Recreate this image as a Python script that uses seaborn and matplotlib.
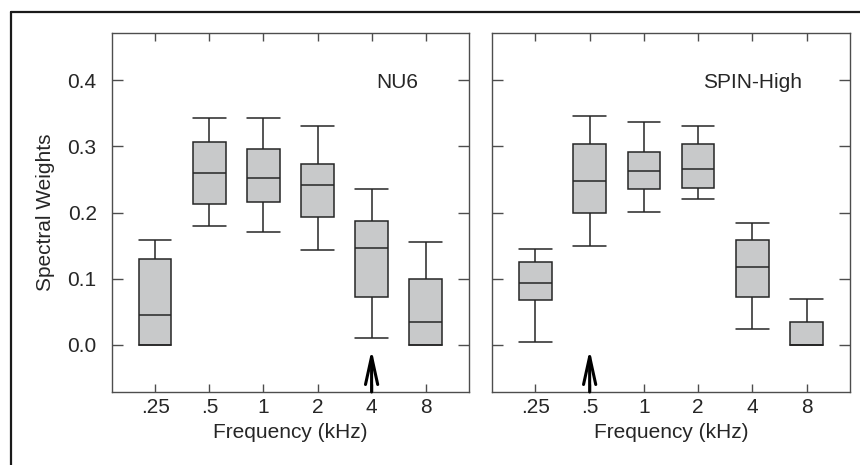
import numpy as np
import pandas as pd
import matplotlib
matplotlib.use('Agg')
import matplotlib.pyplot as plt
from matplotlib.lines import Line2D
import seaborn as sns

# Frequenzbänder (kHz) und Kennwerte der Boxen: min, Q1, Median, Q3, max
freqs = ['.25', '.5', '1', '2', '4', '8']

nu6_min = [0.000, 0.179, 0.170, 0.143, 0.010, 0.000]
nu6_q1 = [0.000, 0.213, 0.216, 0.193, 0.073, 0.000]
nu6_med = [0.045, 0.259, 0.252, 0.241, 0.146, 0.034]
nu6_q3 = [0.130, 0.307, 0.296, 0.273, 0.187, 0.099]
nu6_max = [0.158, 0.343, 0.343, 0.331, 0.236, 0.155]

spin_min = [0.005, 0.150, 0.201, 0.221, 0.024, 0.000]
spin_q1 = [0.068, 0.200, 0.235, 0.237, 0.072, 0.000]
spin_med = [0.093, 0.247, 0.263, 0.266, 0.118, 0.000]
spin_q3 = [0.125, 0.303, 0.292, 0.304, 0.158, 0.034]
spin_max = [0.145, 0.345, 0.337, 0.330, 0.184, 0.070]

panel_titles = ['NU6', 'SPIN-High']
arrow_freqs = ['4', '.5']
yticks = [0.0, 0.1, 0.2, 0.3, 0.4]


def to_long(mins, q1s, meds, q3s, maxs):
    rows = []
    for f, a, b, c, d, e in zip(freqs, mins, q1s, meds, q3s, maxs):
        for v in (a, b, c, d, e):
            rows.append({'freq': f, 'weight': v})
    return pd.DataFrame(rows)


panels = [
    to_long(nu6_min, nu6_q1, nu6_med, nu6_q3, nu6_max),
    to_long(spin_min, spin_q1, spin_med, spin_q3, spin_max),
]

sns.set_style('ticks')
plt.rcParams['font.family'] = ['Liberation Sans', 'DejaVu Sans']
plt.rcParams['font.size'] = 15

spine_col = '#4d4d4d'
line_col = '#262626'
box_col = '#c8c9ca'

fig = plt.figure(figsize=(8.6, 4.65), dpi=100)
ax1 = fig.add_axes([0.1302, 0.157, 0.4151, 0.772])
ax2 = fig.add_axes([0.5721, 0.157, 0.4163, 0.772])

text_pos = [0.798, 0.729]

for i, (ax, df) in enumerate(zip([ax1, ax2], panels)):
    sns.boxplot(data=df, x='freq', y='weight', order=freqs, ax=ax,
                whis=(0, 100), width=0.6, color=box_col, linecolor=line_col,
                linewidth=1.1, saturation=1, showfliers=False, capwidths=0.6)
    ax.set_xlim(-0.8, 5.8)
    ax.set_ylim(-0.071, 0.471)
    ax.set_yticks(yticks)
    ax.set_yticklabels(['0.0', '0.1', '0.2', '0.3', '0.4'])
    for s in ax.spines.values():
        s.set_visible(True)
        s.set_color(spine_col)
        s.set_linewidth(1.0)
    ax.tick_params(axis='y', direction='in', length=8, width=1.0,
                   color=spine_col, left=True, right=True, pad=11,
                   labelsize=15)
    ax.tick_params(axis='x', direction='in', length=6, width=1.0,
                   color=spine_col, top=True, bottom=True, pad=4.5,
                   labelsize=15)
    ax.set_xlabel('Frequency (kHz)', fontsize=15, labelpad=4)
    if i == 0:
        ax.set_ylabel('Spectral Weights', fontsize=15, labelpad=9)
    else:
        ax.set_ylabel('')
        ax.tick_params(axis='y', labelleft=False)
    ax.text(text_pos[i], 0.861, panel_titles[i], transform=ax.transAxes,
            ha='center', va='center', fontsize=15)

    # Pfeil unter dem markierten Band
    xa = freqs.index(arrow_freqs[i])
    ax.annotate('', xy=(xa, -0.007), xytext=(xa, -0.071),
                arrowprops=dict(arrowstyle='->,head_length=1.0,head_width=0.22',
                                color='black', lw=2.2, mutation_scale=20,
                                shrinkA=0, shrinkB=0),
                annotation_clip=False)

# Rahmen oben und links
fig.add_artist(Line2D([0.0128, 0.0128], [0.0, 0.974], transform=fig.transFigure,
                      color='#1a1a1a', lw=1.6))
fig.add_artist(Line2D([0.0128, 1.0], [0.974, 0.974], transform=fig.transFigure,
                      color='#1a1a1a', lw=1.6))

fig.savefig('out.png', dpi=100)
